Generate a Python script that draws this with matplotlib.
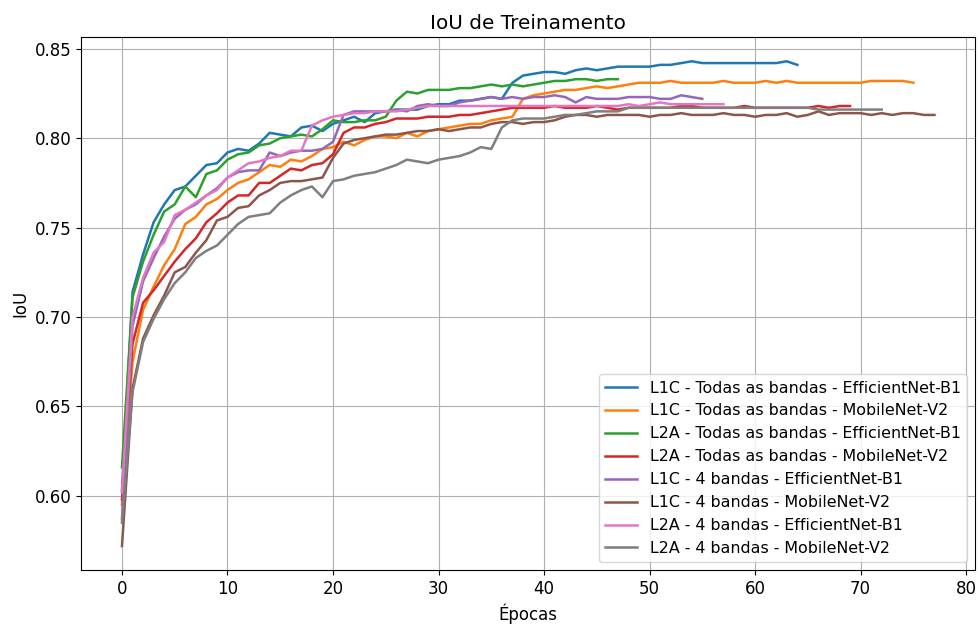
import numpy as np
import matplotlib
matplotlib.use('Agg')
import matplotlib.pyplot as plt

plt.rcParams['font.size'] = 12

# IoU por epoca
l1c_todas_eff = [0.603, 0.714, 0.735, 0.753, 0.763, 0.771, 0.773, 0.779, 0.785, 0.786,
                 0.792, 0.794, 0.793, 0.797, 0.803, 0.802, 0.801, 0.806, 0.807, 0.804,
                 0.808, 0.810, 0.812, 0.809, 0.814, 0.815, 0.816, 0.816, 0.816, 0.818,
                 0.819, 0.819, 0.821, 0.821, 0.822, 0.823, 0.822, 0.831, 0.835, 0.836,
                 0.837, 0.837, 0.836, 0.838, 0.839, 0.838, 0.839, 0.840, 0.840, 0.840,
                 0.840, 0.841, 0.841, 0.842, 0.843, 0.842, 0.842, 0.842, 0.842, 0.842,
                 0.842, 0.842, 0.842, 0.843, 0.841]
l1c_todas_mob = [0.595, 0.675, 0.704, 0.717, 0.729, 0.738, 0.752, 0.756, 0.763, 0.766,
                 0.771, 0.775, 0.777, 0.781, 0.785, 0.784, 0.788, 0.787, 0.790, 0.794,
                 0.795, 0.798, 0.796, 0.799, 0.801, 0.801, 0.800, 0.803, 0.801, 0.804,
                 0.805, 0.806, 0.807, 0.808, 0.808, 0.810, 0.811, 0.812, 0.822, 0.824,
                 0.825, 0.826, 0.827, 0.827, 0.828, 0.829, 0.828, 0.829, 0.830, 0.831,
                 0.831, 0.831, 0.832, 0.831, 0.831, 0.831, 0.831, 0.832, 0.831, 0.831,
                 0.831, 0.832, 0.831, 0.832, 0.831, 0.831, 0.831, 0.831, 0.831, 0.831,
                 0.831, 0.832, 0.832, 0.832, 0.832, 0.831]
l2a_todas_eff = [0.616, 0.711, 0.731, 0.746, 0.759, 0.763, 0.773, 0.767, 0.780, 0.782,
                 0.788, 0.791, 0.792, 0.796, 0.797, 0.800, 0.801, 0.802, 0.801, 0.805,
                 0.810, 0.809, 0.809, 0.810, 0.810, 0.812, 0.821, 0.826, 0.825, 0.827,
                 0.827, 0.827, 0.828, 0.828, 0.829, 0.830, 0.829, 0.830, 0.829, 0.830,
                 0.831, 0.832, 0.832, 0.833, 0.833, 0.832, 0.833, 0.833]
l2a_todas_mob = [0.598, 0.685, 0.708, 0.715, 0.723, 0.731, 0.738, 0.744, 0.753, 0.758,
                 0.764, 0.768, 0.768, 0.775, 0.775, 0.779, 0.783, 0.782, 0.785, 0.786,
                 0.791, 0.803, 0.806, 0.806, 0.808, 0.809, 0.811, 0.811, 0.811, 0.812,
                 0.812, 0.812, 0.813, 0.813, 0.814, 0.815, 0.816, 0.817, 0.817, 0.817,
                 0.817, 0.818, 0.817, 0.817, 0.817, 0.818, 0.817, 0.816, 0.817, 0.817,
                 0.817, 0.817, 0.817, 0.818, 0.818, 0.817, 0.817, 0.817, 0.817, 0.818,
                 0.817, 0.817, 0.817, 0.817, 0.817, 0.817, 0.818, 0.817, 0.818, 0.818]
l1c_4b_eff = [0.587, 0.695, 0.720, 0.733, 0.745, 0.755, 0.760, 0.763, 0.768, 0.772,
              0.778, 0.781, 0.782, 0.782, 0.792, 0.790, 0.792, 0.793, 0.793, 0.794,
              0.798, 0.813, 0.815, 0.815, 0.815, 0.815, 0.816, 0.815, 0.818, 0.819,
              0.818, 0.818, 0.820, 0.821, 0.822, 0.823, 0.822, 0.823, 0.822, 0.823,
              0.823, 0.824, 0.823, 0.820, 0.823, 0.822, 0.822, 0.822, 0.823, 0.823,
              0.823, 0.822, 0.822, 0.824, 0.823, 0.822]
l1c_4b_mob = [0.572, 0.660, 0.688, 0.701, 0.712, 0.725, 0.728, 0.736, 0.743, 0.754,
              0.756, 0.761, 0.762, 0.768, 0.771, 0.775, 0.776, 0.776, 0.777, 0.778,
              0.789, 0.797, 0.799, 0.800, 0.801, 0.802, 0.802, 0.803, 0.804, 0.804,
              0.805, 0.804, 0.805, 0.806, 0.806, 0.808, 0.809, 0.809, 0.808, 0.809,
              0.809, 0.810, 0.812, 0.813, 0.813, 0.812, 0.813, 0.813, 0.813, 0.813,
              0.812, 0.813, 0.813, 0.814, 0.813, 0.813, 0.813, 0.814, 0.813, 0.813,
              0.812, 0.813, 0.813, 0.814, 0.812, 0.813, 0.815, 0.813, 0.814, 0.814,
              0.814, 0.813, 0.814, 0.813, 0.814, 0.814, 0.813, 0.813]
l2a_4b_eff = [0.602, 0.700, 0.722, 0.736, 0.742, 0.757, 0.760, 0.764, 0.768, 0.771,
              0.778, 0.782, 0.786, 0.787, 0.789, 0.790, 0.793, 0.793, 0.807, 0.810,
              0.812, 0.813, 0.814, 0.814, 0.815, 0.815, 0.815, 0.816, 0.817, 0.818,
              0.818, 0.818, 0.818, 0.818, 0.818, 0.818, 0.818, 0.818, 0.818, 0.818,
              0.818, 0.818, 0.818, 0.818, 0.818, 0.818, 0.818, 0.818, 0.819, 0.818,
              0.819, 0.820, 0.819, 0.819, 0.819, 0.819, 0.819, 0.819]
l2a_4b_mob = [0.585, 0.658, 0.686, 0.699, 0.710, 0.719, 0.725, 0.733, 0.737, 0.740,
              0.746, 0.752, 0.756, 0.757, 0.758, 0.764, 0.768, 0.771, 0.773, 0.767,
              0.776, 0.777, 0.779, 0.780, 0.781, 0.783, 0.785, 0.788, 0.787, 0.786,
              0.788, 0.789, 0.790, 0.792, 0.795, 0.794, 0.806, 0.810, 0.811, 0.811,
              0.811, 0.812, 0.813, 0.813, 0.814, 0.815, 0.815, 0.815, 0.817, 0.817,
              0.817, 0.817, 0.817, 0.817, 0.817, 0.817, 0.817, 0.817, 0.817, 0.817,
              0.817, 0.817, 0.817, 0.817, 0.817, 0.817, 0.816, 0.816, 0.816, 0.816,
              0.816, 0.816, 0.816]

series = [
    (l1c_todas_eff, 'L1C - Todas as bandas - EfficientNet-B1'),
    (l1c_todas_mob, 'L1C - Todas as bandas - MobileNet-V2'),
    (l2a_todas_eff, 'L2A - Todas as bandas - EfficientNet-B1'),
    (l2a_todas_mob, 'L2A - Todas as bandas - MobileNet-V2'),
    (l1c_4b_eff, 'L1C - 4 bandas - EfficientNet-B1'),
    (l1c_4b_mob, 'L1C - 4 bandas - MobileNet-V2'),
    (l2a_4b_eff, 'L2A - 4 bandas - EfficientNet-B1'),
    (l2a_4b_mob, 'L2A - 4 bandas - MobileNet-V2'),
]

fig = plt.figure(figsize=(9.8, 6.28), dpi=100)
ax = fig.add_axes([0.083, 0.092, 0.912, 0.849])

for vals, label in series:
    ax.plot(np.arange(len(vals)), vals, label=label, linewidth=1.8)

ax.set_title('IoU de Treinamento')
ax.set_xlabel('Épocas')
ax.set_ylabel('IoU')
ax.grid(True)
ax.legend(loc='lower right', fontsize=11.4)

fig.savefig('out.png', dpi=100)
